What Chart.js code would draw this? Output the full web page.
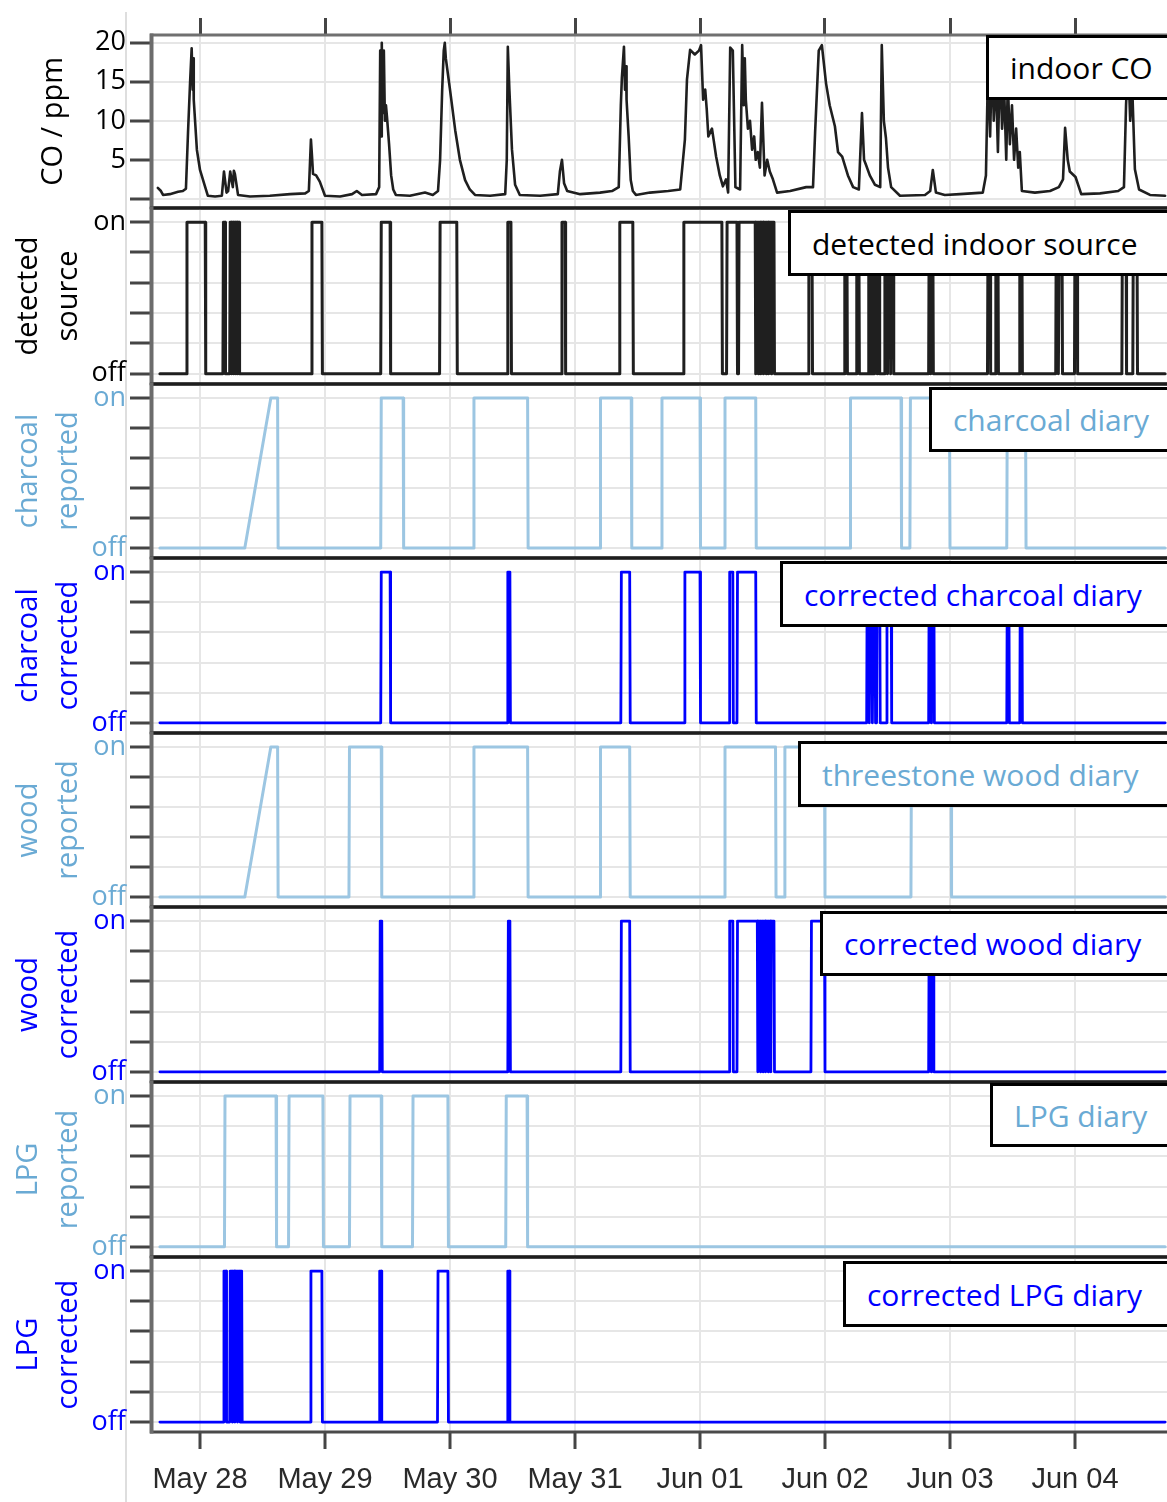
<!DOCTYPE html>
<html>
<head>
<meta charset="utf-8">
<title>Indoor CO, detected sources and stove diaries</title>
<script src="https://cdn.jsdelivr.net/npm/chart.js@4.4.1/dist/chart.umd.min.js"></script>
<style>
  html, body { margin: 0; padding: 0; background: #fff; overflow: hidden; }
  #fig { position: relative; width: 1167px; height: 1502px; overflow: hidden; }
  .panel { position: absolute; left: 0; }
  .edge { position: absolute; left: 125px; top: 12px; width: 2px; height: 1490px; background: #dedede; }
  .tag {
    position: absolute; box-sizing: border-box; width: 430px;
    border: 3px solid #000; background: #fff; z-index: 5;
    font-family: 'Open Sans', sans-serif; font-size: 30px;
    padding-left: 21px; display: flex; align-items: center; white-space: nowrap;
  }
</style>
</head>
<body>
<div id="fig">
  <div class="edge"></div>
</div>
<script>
// time axis: hours since May 28 00:00
const dayHours = [0, 24, 48, 72, 96, 120, 144, 168];
const dayLabels = ['May 28', 'May 29', 'May 30', 'May 31', 'Jun 01', 'Jun 02', 'Jun 03', 'Jun 04'];

const coTicks = [0, 5, 10, 15, 20];
const coTickLabels = ['', '5', '10', '15', '20'];
const stateTicks = [0, 0.2, 0.4, 0.6, 0.8, 1];
const stateTickLabels = ['off', '', '', '', '', 'on'];

// indoor CO readings [hour, ppm]
const coSeries = [
  [-8.1, 1.4], [-7.5, 1.0], [-7.1, 0.5], [-5.8, 0.6], [-4.2, 0.9], [-3.3, 1.0], [-2.7, 1.3], [-2.3, 8.5],
  [-1.9, 15], [-1.6, 19.3], [-1.4, 14], [-1.3, 18], [-1.2, 12.7], [-0.6, 6.3], [0, 3.7], [1.0, 1.5],
  [1.5, 0.4], [2.9, 0.3], [4.2, 0.4], [4.6, 3.5], [5.1, 0.8], [5.4, 1.0], [5.8, 3.5], [6.3, 1.5],
  [6.5, 3.6], [6.7, 3.2], [7.3, 0.5], [9.6, 0.3], [13.4, 0.4], [17.3, 0.6], [20.2, 0.7], [20.9, 1.0],
  [21.3, 7.6], [21.5, 5.5], [21.7, 3.2], [22.3, 3.0], [23.0, 2.2], [24.0, 0.4], [26.9, 0.3], [29.2, 0.6],
  [30.1, 1.0], [31.1, 0.5], [33.8, 0.6], [34.4, 1.5], [34.6, 19], [34.8, 8], [34.9, 20], [35.1, 11],
  [35.3, 19], [35.5, 10], [35.7, 12], [35.9, 10.5], [36.3, 7], [36.7, 3], [37.1, 1.2], [37.6, 0.5],
  [40.3, 0.4], [43.2, 0.8], [44.7, 0.5], [45.7, 1.0], [46.1, 5], [46.5, 14], [46.8, 19], [47.0, 20],
  [47.2, 18], [47.6, 16], [48.0, 14], [49.0, 8.8], [49.9, 5], [50.9, 2.4], [51.8, 1.2], [52.8, 0.5],
  [55.7, 0.4], [58.6, 0.6], [58.9, 5], [59.1, 19.5], [59.4, 14], [59.9, 6.3], [60.5, 1.8], [61.4, 0.5],
  [65.3, 0.4], [68.7, 0.6], [69.1, 3.5], [69.5, 5], [69.9, 2], [70.5, 1.0], [73.0, 0.6], [76.8, 0.8],
  [79.1, 1.0], [80.4, 1.5], [80.8, 12], [81.0, 15.5], [81.4, 19.5], [81.6, 14], [81.8, 17], [81.9, 12.7],
  [82.3, 8], [82.7, 2.4], [83.1, 1.0], [83.7, 0.5], [86.4, 0.8], [89.9, 1.0], [92.2, 1.2], [93.1, 7.6],
  [93.5, 15.3], [94.1, 19.1], [95.0, 18.5], [95.8, 19], [96.2, 19.7], [96.6, 12.7], [97.0, 14], [97.3, 11.4],
  [97.6, 8], [98.3, 9], [99.1, 5.4], [99.8, 3], [100.4, 1.6], [101.0, 2.5], [101.4, 0.8], [101.8, 19.4],
  [102.3, 19.0], [102.8, 1.5], [103.7, 1.2], [104.1, 19.7], [104.4, 12], [104.6, 18], [104.8, 12.7], [105.2, 9],
  [105.6, 10], [106.0, 6.3], [106.4, 8], [106.7, 5], [107.1, 6], [107.5, 4], [107.9, 12.3], [108.4, 3],
  [108.9, 5], [109.4, 3.5], [110.0, 2.5], [110.8, 0.8], [113.3, 1.0], [116.4, 1.5], [117.7, 1.5], [118.1, 8.5],
  [118.8, 19], [119.4, 19.7], [120.2, 14.8], [120.9, 12], [121.9, 9.3], [122.5, 6], [123.3, 5.4], [124.4, 3],
  [125.4, 1.5], [126.5, 1.2], [127.1, 11], [127.5, 5], [127.9, 4.3], [128.6, 3], [129.6, 1.8], [130.6, 1.5],
  [130.9, 19.7], [131.3, 10], [131.7, 7.8], [132.1, 4], [132.7, 1.5], [134.4, 0.4], [139.2, 0.5], [140.2, 1.0],
  [140.7, 3.7], [141.3, 0.8], [143.0, 0.5], [145.9, 0.6], [150.3, 0.8], [150.9, 3], [151.3, 17], [151.7, 8],
  [152.1, 19], [152.4, 10], [152.8, 16], [153.2, 6], [153.6, 18], [154.0, 9], [154.4, 14], [154.8, 5],
  [155.1, 15], [155.5, 7], [155.9, 12], [156.3, 5], [156.7, 9], [157.1, 4], [157.4, 6], [157.8, 1.0],
  [160.3, 0.8], [163.2, 1.0], [164.9, 1.5], [165.7, 2.5], [166.1, 9.1], [166.6, 5], [167.0, 3.5], [168.1, 2.8],
  [169.2, 0.6], [172.8, 0.7], [176.3, 1.0], [177.4, 1.5], [177.8, 12], [178.2, 18], [178.6, 10], [179.0, 14],
  [179.5, 3.8], [180.3, 1.2], [182.4, 0.5], [185.3, 0.4]
];

// "on" periods [start, end, (rise duration)] in hours
const detectedOn = [
  [-2.5, 1.0], [4.5, 4.8], [5.8, 6.0], [6.2, 6.4], [6.6, 6.8], [7.0, 7.15], [7.35, 7.5],
  [21.5, 23.4], [34.8, 36.5], [46.1, 49.3], [59.1, 59.7], [69.5, 70.1], [80.6, 83.1],
  [92.9, 100.2], [101.2, 103.1], [103.5, 106.6], [106.8, 107.1], [107.3, 107.6], [107.8, 108.1],
  [108.3, 108.6], [108.8, 109.1], [109.3, 109.6], [109.8, 110.2], [116.9, 117.5], [123.8, 124.2],
  [126.1, 126.5], [128.4, 128.7], [129.0, 129.3], [129.6, 129.9], [130.1, 130.4], [131.5, 131.9],
  [132.1, 132.5], [132.7, 133.1], [140.0, 140.2], [140.4, 140.7], [151.3, 151.7], [152.8, 153.2],
  [157.4, 157.8], [164.4, 164.7], [165.0, 165.5], [168.0, 168.4], [177.1, 177.8], [179.2, 179.9]
];
const charcoalReportedOn = [
  [13.6, 14.9, 5.0], [34.8, 39.0], [52.6, 62.9], [76.9, 82.8], [88.7, 96.0], [100.8, 106.7],
  [124.9, 134.6], [136.4, 143.9], [155.0, 158.5]
];
const charcoalCorrectedOn = [
  [34.8, 36.5], [59.1, 59.5], [80.9, 82.5], [93.1, 96.0], [101.7, 102.3], [103.2, 106.7],
  [128.1, 128.4], [128.7, 129.0], [129.3, 129.6], [130.0, 130.5], [131.9, 132.7],
  [140.0, 140.3], [140.5, 140.9], [155.0, 155.3], [157.5, 157.8]
];
const woodReportedOn = [
  [13.6, 14.9, 5.0], [28.7, 34.8], [52.6, 62.9], [76.9, 82.5], [100.8, 110.5], [112.3, 119.9], [136.6, 144.2]
];
const woodCorrectedOn = [
  [34.6, 34.9], [59.2, 59.5], [80.9, 82.5], [101.7, 102.3], [103.2, 107.0], [107.2, 107.5],
  [107.7, 108.0], [108.2, 108.5], [108.7, 109.0], [109.2, 109.5], [109.7, 110.2], [117.4, 119.9],
  [140.0, 140.3], [140.5, 140.8]
];
const lpgReportedOn = [[4.8, 14.6], [17.1, 23.6], [28.8, 34.8], [40.9, 47.6], [58.8, 62.8]];
const lpgCorrectedOn = [
  [4.6, 5.0], [5.8, 6.1], [6.3, 6.6], [6.8, 7.1], [7.3, 7.6], [7.8, 8.0], [21.3, 23.4],
  [34.5, 34.8], [45.7, 47.6], [59.1, 59.4]
];

const SERIES_START = -7.7;
const SERIES_END = 185.3;
const EDGE = 0.1;
const X_MIN = -9.6;
const X_MAX = 192;

const BLACK = '#1f1f1f';
const LIGHT_LINE = '#9cc6e2';
const LIGHT_TEXT = '#6aaad4';
const BLUE = '#0000ff';
const GRID = '#e6e6e6';
const TICK = '#454545';

Chart.defaults.font.family = "'Open Sans', sans-serif";
Chart.defaults.color = '#000';

function stepPoints(intervals) {
  const pts = [{ x: SERIES_START, y: 0 }];
  intervals.forEach(([on, off, rise]) => {
    pts.push({ x: on - (rise || EDGE), y: 0 }, { x: on, y: 1 }, { x: off, y: 1 }, { x: off + EDGE, y: 0 });
  });
  pts.push({ x: SERIES_END, y: 0 });
  return pts;
}

// panel outline: dark separators top/bottom, grey left edge
const framePlugin = {
  id: 'frame',
  afterDraw(chart, args, opts) {
    const { ctx, chartArea: a } = chart;
    ctx.save();
    ctx.lineWidth = 3;
    ctx.strokeStyle = opts.topColor || '#1e1e1e';
    ctx.beginPath(); ctx.moveTo(a.left, a.top); ctx.lineTo(a.right, a.top); ctx.stroke();
    ctx.strokeStyle = opts.bottomColor || '#1e1e1e';
    ctx.beginPath(); ctx.moveTo(a.left, a.bottom); ctx.lineTo(a.right, a.bottom); ctx.stroke();
    ctx.lineWidth = 4;
    ctx.strokeStyle = '#6c6c6c';
    ctx.beginPath(); ctx.moveTo(a.left + 1.5, a.top - 1.5); ctx.lineTo(a.left + 1.5, a.bottom + 1.5); ctx.stroke();
    ctx.restore();
  }
};

const panels = [
  { frame: [35, 208], points: coSeries.map(([x, y]) => ({ x, y })), line: BLACK, width: 2.6, text: '#000',
    title: 'CO / ppm', titlePad: 34, yMin: -1.15, yMax: 21.0, ticks: coTicks, labels: coTickLabels,
    tag: 'indoor CO', tagBox: [986, 35, 65] },
  { frame: [208, 384], points: stepPoints(detectedOn), line: BLACK, width: 3, text: '#000',
    title: ['detected', 'source'], titlePad: 9, tag: 'detected indoor source', tagBox: [788, 210, 66] },
  { frame: [384, 558], points: stepPoints(charcoalReportedOn), line: LIGHT_LINE, width: 3, text: LIGHT_TEXT,
    title: ['charcoal', 'reported'], titlePad: 9, tag: 'charcoal diary', tagBox: [929, 387, 65] },
  { frame: [558, 733], points: stepPoints(charcoalCorrectedOn), line: BLUE, width: 2.8, text: BLUE,
    title: ['charcoal', 'corrected'], titlePad: 9, tag: 'corrected charcoal diary', tagBox: [780, 561, 66] },
  { frame: [733, 907], points: stepPoints(woodReportedOn), line: LIGHT_LINE, width: 3, text: LIGHT_TEXT,
    title: ['wood', 'reported'], titlePad: 9, tag: 'threestone wood diary', tagBox: [798, 741, 66] },
  { frame: [907, 1082], points: stepPoints(woodCorrectedOn), line: BLUE, width: 2.8, text: BLUE,
    title: ['wood', 'corrected'], titlePad: 9, tag: 'corrected wood diary', tagBox: [820, 911, 65] },
  { frame: [1082, 1257], points: stepPoints(lpgReportedOn), line: LIGHT_LINE, width: 3, text: LIGHT_TEXT,
    title: ['LPG', 'reported'], titlePad: 9, tag: 'LPG diary', tagBox: [990, 1083, 64] },
  { frame: [1257, 1432], points: stepPoints(lpgCorrectedOn), line: BLUE, width: 2.8, text: BLUE,
    title: ['LPG', 'corrected'], titlePad: 9, tag: 'corrected LPG diary', tagBox: [843, 1261, 66] }
];

const fig = document.getElementById('fig');

function dayTickBuilder(scale) {
  scale.ticks = dayHours.map(v => ({ value: v }));
}

panels.forEach((p, i) => {
  const first = i === 0;
  const last = i === panels.length - 1;
  const [f0, f1] = p.frame;
  const padTop = first ? 18 : 20;
  const topAxis = first ? 17 : 0;
  const bottomAxis = last ? 70 : 0;
  const padBottom = last ? 0 : 20;
  const top = f0 - padTop - topAxis;
  const height = (f1 - f0) + padTop + topAxis + padBottom + bottomAxis;

  const holder = document.createElement('div');
  holder.className = 'panel';
  holder.style.top = top + 'px';
  const canvas = document.createElement('canvas');
  canvas.width = 1200;
  canvas.height = height;
  holder.appendChild(canvas);
  fig.appendChild(holder);

  const yTicks = p.ticks || stateTicks;
  const yLabels = p.labels || stateTickLabels;

  const scales = {
    x: {
      type: 'linear', min: X_MIN, max: X_MAX,
      afterBuildTicks: dayTickBuilder,
      grid: { color: GRID, lineWidth: 2, drawTicks: last, tickLength: 17, tickColor: TICK, tickWidth: 3 },
      border: { display: false },
      ticks: last
        ? { display: true, autoSkip: false, maxRotation: 0, padding: 14, color: '#2a2a2a',
            font: { family: "'Liberation Sans', Arial, sans-serif", size: 29 },
            callback: (v, idx) => dayLabels[idx] }
        : { display: false },
      afterFit: s => { s.height = bottomAxis; }
    },
    y: {
      min: p.yMin !== undefined ? p.yMin : -0.066,
      max: p.yMax !== undefined ? p.yMax : 1.092,
      afterBuildTicks: s => { s.ticks = yTicks.map(v => ({ value: v })); },
      grid: { color: GRID, lineWidth: 2, tickLength: 20, tickColor: TICK, tickWidth: 3 },
      border: { display: false },
      ticks: { autoSkip: false, padding: 4, color: p.text, font: { size: 27 },
               callback: (v, idx) => yLabels[idx] },
      title: { display: true, text: p.title, color: p.text,
               font: { size: 29, lineHeight: 1.38 }, padding: { top: p.titlePad, bottom: 0 } },
      afterFit: s => { s.width = 150; }
    }
  };
  if (first) {
    scales.xTop = {
      type: 'linear', position: 'top', min: X_MIN, max: X_MAX,
      afterBuildTicks: dayTickBuilder,
      grid: { drawOnChartArea: false, drawTicks: true, tickLength: 17, tickColor: TICK, tickWidth: 3 },
      border: { display: false },
      ticks: { display: false },
      afterFit: s => { s.height = topAxis; }
    };
  }

  new Chart(canvas, {
    type: 'line',
    data: {
      datasets: [{
        data: p.points,
        borderColor: p.line,
        borderWidth: p.width,
        pointRadius: 0,
        tension: 0,
        borderJoinStyle: 'round',
        borderCapStyle: 'round'
      }]
    },
    options: {
      responsive: false,
      animation: false,
      events: [],
      layout: { padding: { top: padTop, bottom: padBottom, left: 0, right: 0 } },
      plugins: {
        legend: { display: false },
        tooltip: { enabled: false },
        frame: { topColor: first ? '#707070' : '#1e1e1e', bottomColor: last ? '#4a4a4a' : '#1e1e1e' }
      },
      scales: scales
    },
    plugins: [framePlugin]
  });

  const tag = document.createElement('div');
  tag.className = 'tag';
  tag.textContent = p.tag;
  tag.style.left = p.tagBox[0] + 'px';
  tag.style.top = p.tagBox[1] + 'px';
  tag.style.height = p.tagBox[2] + 'px';
  tag.style.color = p.text;
  fig.appendChild(tag);
});
</script>
</body>
</html>
